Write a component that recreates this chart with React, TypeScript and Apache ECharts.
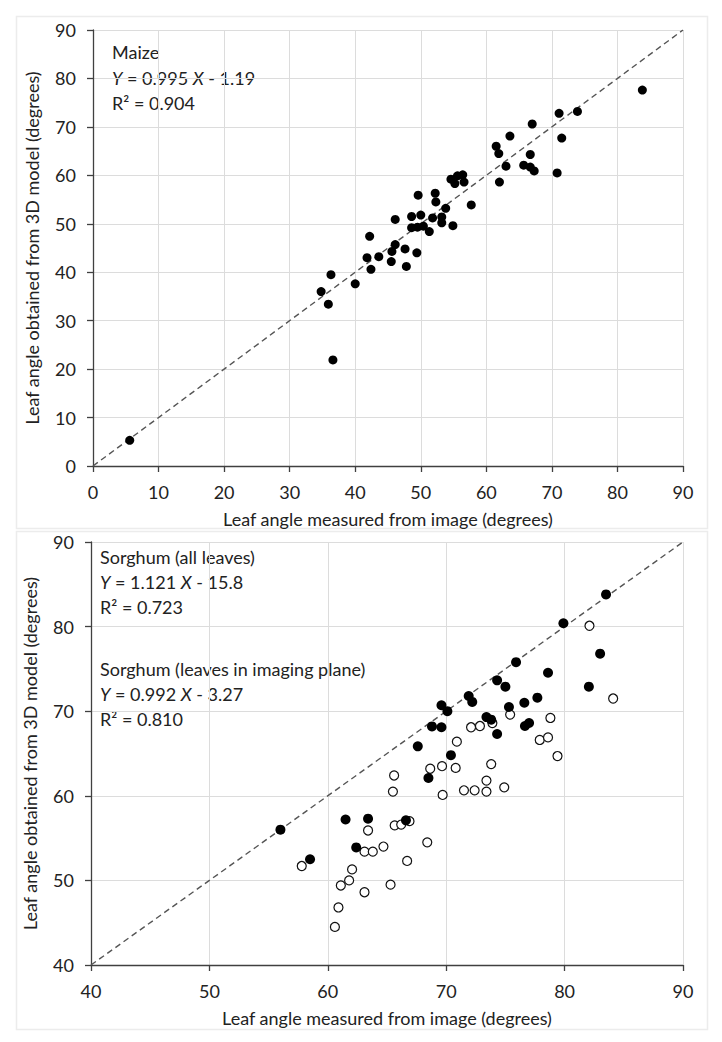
import React, { useEffect, useRef } from "react";
import * as echarts from "echarts";

// Maize: leaf angle (x) vs obtained from 3D model (y)
const maizeMeasured = [5.6, 34.8, 35.9, 36.3, 36.6, 40.0, 41.8, 42.2, 42.4, 43.6, 45.5, 45.6, 46.1, 46.1, 47.6, 47.8, 48.6, 48.6, 49.4, 49.5, 49.6, 50.0, 50.4, 51.3, 51.8, 52.2, 52.3, 53.2, 53.2, 53.8, 54.6, 54.9, 55.2, 55.6, 56.4, 56.6, 57.7, 61.5, 61.9, 62.0, 63.0, 63.6, 65.7, 66.7, 66.7, 67.0, 67.3, 70.8, 71.1, 71.5, 73.9, 83.8];
const maizeModel = [5.3, 36.0, 33.4, 39.5, 21.9, 37.6, 43.0, 47.4, 40.6, 43.2, 42.2, 44.3, 45.7, 50.9, 44.8, 41.2, 51.5, 49.2, 44.0, 49.3, 55.9, 51.8, 49.5, 48.4, 51.2, 56.3, 54.5, 51.4, 50.2, 53.2, 59.2, 49.6, 58.3, 59.9, 60.1, 58.6, 53.9, 66.0, 64.5, 58.6, 61.9, 68.1, 62.1, 61.7, 64.3, 70.6, 60.9, 60.5, 72.8, 67.7, 73.2, 77.6];

// Sorghum, leaves in imaging plane (filled markers)
const sorghumPlaneMeasured = [56.0, 58.5, 61.5, 63.4, 62.4, 66.6, 67.6, 68.5, 68.8, 69.6, 70.1, 69.6, 70.4, 71.9, 72.2, 73.4, 73.8, 74.3, 74.3, 75.0, 75.3, 75.9, 76.6, 76.65, 77.0, 77.7, 78.6, 79.9, 82.05, 83.0, 83.5];
const sorghumPlaneModel = [56.0, 52.5, 57.2, 57.3, 53.9, 57.1, 65.85, 62.1, 68.2, 70.7, 70.0, 68.1, 64.8, 71.8, 71.1, 69.3, 69.0, 67.3, 73.65, 72.9, 70.5, 75.8, 71.0, 68.25, 68.6, 71.6, 74.55, 80.4, 72.9, 76.8, 83.8];

// Sorghum, remaining leaves (open markers)
const sorghumOtherMeasured = [57.8, 60.6, 60.9, 61.1, 61.8, 62.05, 63.1, 63.1, 63.4, 63.8, 64.7, 65.3, 65.5, 65.6, 65.65, 66.2, 66.9, 66.7, 68.4, 68.65, 69.7, 69.65, 70.8, 70.9, 71.5, 72.1, 72.4, 72.85, 73.4, 73.4, 73.8, 73.9, 74.9, 75.4, 77.9, 78.6, 78.8, 79.4, 82.1, 84.1];
const sorghumOtherModel = [51.7, 44.5, 46.8, 49.4, 50.0, 51.3, 48.6, 53.4, 55.9, 53.4, 54.0, 49.5, 60.5, 62.4, 56.5, 56.6, 57.0, 52.3, 54.5, 63.2, 60.1, 63.5, 63.3, 66.4, 60.65, 68.1, 60.65, 68.25, 60.5, 61.8, 63.75, 68.6, 61.0, 69.6, 66.6, 66.9, 69.2, 64.7, 80.1, 71.5];

const maizeTicks = [0, 90, 10];
const sorghumTicks = [40, 90, 10];

const xTitle = "Leaf angle measured from image (degrees)";
const yTitle = "Leaf angle obtained from 3D model (degrees)";

const maizeNote = ["Maize", "{i|Y} = 0.995 {i|X} - 1.19", "R² = 0.904"];
const sorghumNote = [
  "Sorghum (all leaves)",
  "{i|Y} = 1.121 {i|X} - 15.8",
  "R² = 0.723",
  "Sorghum (leaves in imaging plane)",
  "{i|Y} = 0.992 {i|X} - 3.27",
  "R² = 0.810",
];

const FONT = "Lato";
const zip = (a: number[], b: number[]) => a.map((v, i) => [v, b[i]]);

export default function App() {
  const ref = useRef<HTMLDivElement>(null);
  useEffect(() => {
    if (!ref.current) return;
    const chart = echarts.init(ref.current, null, { renderer: "svg" });
    const axisCommon = (ticks: number[]) => ({
      type: "value" as const,
      min: ticks[0],
      max: ticks[1],
      interval: ticks[2],
      axisLine: { show: true, lineStyle: { color: "#404040", width: 1.3 } },
      axisTick: { show: true, length: 6, lineStyle: { color: "#404040", width: 1.3 } },
      splitLine: { show: true, lineStyle: { color: "#dcdcdc", width: 1 } },
      axisLabel: { color: "#222", fontSize: 18, fontFamily: FONT, margin: 17 },
      nameTextStyle: { color: "#222", fontSize: 18, fontFamily: FONT },
      nameLocation: "middle" as const,
    });
    const noteStyle = { fontSize: 18, fontFamily: FONT, fill: "#222" };
    const richI = { i: { fontStyle: "italic", fontSize: 18, fontFamily: FONT, color: "#222" } };
    const notes: any[] = [];
    maizeNote.forEach((t, k) => {
      notes.push({
        type: "text",
        left: 112,
        top: 43 + k * 25.5,
        style: { ...noteStyle, text: t, rich: richI },
      });
    });
    sorghumNote.forEach((t, k) => {
      const base = k < 3 ? 548 : 660 - 3 * 25;
      notes.push({
        type: "text",
        left: 100,
        top: base + k * 25,
        style: { ...noteStyle, text: t, rich: richI },
      });
    });
    chart.setOption({
      animation: false,
      backgroundColor: "#ffffff",
      graphic: [
        { type: "rect", shape: { x: 16.5, y: 16.5, width: 691, height: 512 }, style: { fill: "none", stroke: "#ececec", lineWidth: 1.5 }, z: -10 },
        { type: "rect", shape: { x: 16.5, y: 531.5, width: 691, height: 498 }, style: { fill: "none", stroke: "#ececec", lineWidth: 1.5 }, z: -10 },
        ...notes,
      ],
      grid: [
        { left: 93, right: 39, top: 30, height: 436 },
        { left: 91, right: 39, top: 542, height: 423 },
      ],
      xAxis: [
        { ...axisCommon(maizeTicks), gridIndex: 0, name: xTitle, nameGap: 44 },
        { ...axisCommon(sorghumTicks), gridIndex: 1, name: xTitle, nameGap: 44 },
      ],
      yAxis: [
        { ...axisCommon(maizeTicks), gridIndex: 0, name: yTitle, nameGap: 52 },
        { ...axisCommon(sorghumTicks), gridIndex: 1, name: yTitle, nameGap: 52 },
      ],
      series: [
        {
          type: "line",
          xAxisIndex: 0,
          yAxisIndex: 0,
          data: [[maizeTicks[0], maizeTicks[0]], [maizeTicks[1], maizeTicks[1]]],
          symbol: "none",
          lineStyle: { color: "#555", width: 1.4, type: [6, 4] },
          z: 1,
        },
        {
          type: "scatter",
          xAxisIndex: 0,
          yAxisIndex: 0,
          data: zip(maizeMeasured, maizeModel),
          symbolSize: 9,
          itemStyle: { color: "#000", opacity: 1 },
          z: 3,
        },
        {
          type: "line",
          xAxisIndex: 1,
          yAxisIndex: 1,
          data: [[sorghumTicks[0], sorghumTicks[0]], [sorghumTicks[1], sorghumTicks[1]]],
          symbol: "none",
          lineStyle: { color: "#555", width: 1.4, type: [6, 4] },
          z: 1,
        },
        {
          type: "scatter",
          xAxisIndex: 1,
          yAxisIndex: 1,
          data: zip(sorghumOtherMeasured, sorghumOtherModel),
          symbolSize: 9,
          itemStyle: { color: "#fff", borderColor: "#111", borderWidth: 1.2, opacity: 1 },
          z: 3,
        },
        {
          type: "scatter",
          xAxisIndex: 1,
          yAxisIndex: 1,
          data: zip(sorghumPlaneMeasured, sorghumPlaneModel),
          symbolSize: 10,
          itemStyle: { color: "#000", opacity: 1 },
          z: 4,
        },
      ],
    });
    return () => chart.dispose();
  }, []);
  return (
    <div
      ref={ref}
      style={{ position: "fixed", left: 0, top: 0, width: 722, height: 1042, background: "#fff" }}
    />
  );
}
